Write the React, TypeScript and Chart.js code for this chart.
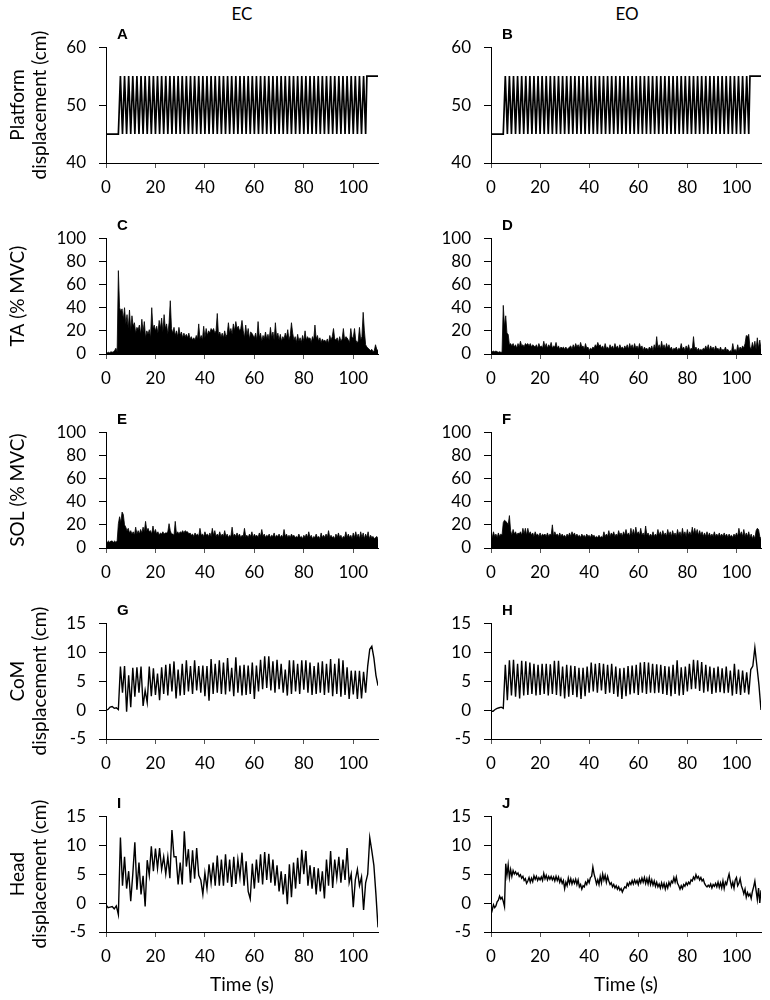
import { useEffect, useRef } from "react";
import { Chart, registerables } from "chart.js";

Chart.register(...registerables);

// ---- data ----

// platform turning points (s) and positions (cm); EO trace reads the same as EC
const platformTimes = [
  0,
  5, 5.83, 6.67, 7.5, 8.33, 9.17,
  10, 10.83, 11.67, 12.5, 13.33, 14.17,
  15, 15.83, 16.67, 17.5, 18.33, 19.17,
  20, 20.83, 21.67, 22.5, 23.33, 24.17,
  25, 25.83, 26.67, 27.5, 28.33, 29.17,
  30, 30.83, 31.67, 32.5, 33.33, 34.17,
  35, 35.83, 36.67, 37.5, 38.33, 39.17,
  40, 40.83, 41.67, 42.5, 43.33, 44.17,
  45, 45.83, 46.67, 47.5, 48.33, 49.17,
  50, 50.83, 51.67, 52.5, 53.33, 54.17,
  55, 55.83, 56.67, 57.5, 58.33, 59.17,
  60, 60.83, 61.67, 62.5, 63.33, 64.17,
  65, 65.83, 66.67, 67.5, 68.33, 69.17,
  70, 70.83, 71.67, 72.5, 73.33, 74.17,
  75, 75.83, 76.67, 77.5, 78.33, 79.17,
  80, 80.83, 81.67, 82.5, 83.33, 84.17,
  85, 85.83, 86.67, 87.5, 88.33, 89.17,
  90, 90.83, 91.67, 92.5, 93.33, 94.17,
  95, 95.83, 96.67, 97.5, 98.33, 99.17,
  100, 100.83, 101.67, 102.5, 103.33, 104.17,
  105, 105.5, 110,
];
const platformEC = [
  45,
  45, 55, 45, 55, 45, 55,
  45, 55, 45, 55, 45, 55,
  45, 55, 45, 55, 45, 55,
  45, 55, 45, 55, 45, 55,
  45, 55, 45, 55, 45, 55,
  45, 55, 45, 55, 45, 55,
  45, 55, 45, 55, 45, 55,
  45, 55, 45, 55, 45, 55,
  45, 55, 45, 55, 45, 55,
  45, 55, 45, 55, 45, 55,
  45, 55, 45, 55, 45, 55,
  45, 55, 45, 55, 45, 55,
  45, 55, 45, 55, 45, 55,
  45, 55, 45, 55, 45, 55,
  45, 55, 45, 55, 45, 55,
  45, 55, 45, 55, 45, 55,
  45, 55, 45, 55, 45, 55,
  45, 55, 45, 55, 45, 55,
  45, 55, 45, 55, 45, 55,
  45, 55, 45, 55, 45, 55,
  45, 55, 55,
];
const platformEO = platformEC;

// EMG envelopes (% MVC), one value every 0.5 s from 0 to 110 s
const taEC = [
  1, 1, 1.5, 1, 2, 1.5, 2, 3, 5, 2,
  72, 40, 37, 39, 30, 40, 26, 34, 22, 38,
  20, 33, 24, 27, 18, 23, 21, 25, 17, 30,
  19, 28, 14, 20, 17, 21, 14, 40, 22, 25,
  20, 24, 18, 29, 22, 31, 19, 34, 22, 26,
  17, 27, 46, 22, 18, 23, 16, 20, 15, 23,
  16, 19, 14, 18, 15, 17, 14, 18, 13, 15,
  12, 14, 12, 16, 13, 26, 13, 16, 12, 24,
  14, 22, 16, 20, 18, 22, 20, 22, 18, 20,
  35, 16, 19, 15, 18, 14, 20, 15, 17, 27,
  18, 22, 17, 26, 20, 28, 22, 24, 20, 22,
  29, 20, 14, 25, 16, 22, 13, 19, 18, 16,
  14, 18, 12, 28, 14, 18, 11, 16, 13, 19,
  13, 17, 12, 23, 14, 19, 12, 27, 14, 18,
  12, 17, 11, 15, 13, 18, 14, 21, 12, 16,
  27, 18, 12, 15, 10, 17, 11, 14, 10, 16,
  11, 20, 12, 15, 13, 14, 10, 15, 12, 25,
  13, 16, 11, 14, 10, 13, 11, 12, 10, 13,
  9, 16, 12, 15, 22, 13, 12, 14, 10, 15,
  11, 13, 22, 12, 15, 14, 12, 10, 22, 14,
  14, 22, 12, 10, 11, 23, 12, 15, 36, 20,
  8, 6, 5, 4, 3, 4, 2, 3, 8, 4,
  3,
];
const taEO = [
  1.5, 2, 2.5, 2, 2.5, 2, 1.5, 2, 1.5, 1.5,
  42, 24, 33, 18, 17, 8, 9, 7, 9, 6,
  8, 5, 9, 6, 11, 7, 8, 6, 9, 8,
  9, 7, 9, 6, 8, 7, 6, 8, 5, 9,
  6, 7, 5, 11, 6, 9, 5, 8, 6, 10,
  5, 7, 6, 10, 5, 7, 4, 6, 5, 6,
  4, 6, 4, 5, 6, 7, 4, 8, 5, 9,
  6, 8, 5, 10, 6, 7, 4, 9, 5, 6,
  3, 5, 4, 6, 5, 8, 6, 10, 7, 8,
  5, 7, 4, 9, 5, 6, 4, 8, 5, 7,
  4, 9, 5, 7, 4, 8, 5, 6, 4, 7,
  5, 8, 4, 9, 5, 8, 4, 9, 5, 7,
  4, 9, 5, 7, 3, 6, 4, 5, 3, 6,
  4, 7, 3, 8, 4, 15, 5, 8, 4, 11,
  5, 8, 4, 9, 5, 8, 4, 6, 3, 5,
  4, 6, 3, 5, 4, 9, 4, 6, 3, 7,
  4, 8, 3, 5, 4, 15, 4, 6, 3, 5,
  3, 4, 3, 5, 4, 7, 4, 8, 3, 7,
  4, 6, 3, 7, 4, 5, 3, 6, 3, 4,
  3, 6, 3, 4, 2, 3, 2, 9, 3, 4,
  2, 8, 3, 6, 4, 7, 5, 9, 16, 15,
  17, 6, 4, 10, 5, 11, 4, 14, 5, 12,
  4,
];
const solEC = [
  6, 5, 6, 5, 6, 6, 5, 6, 5, 6,
  21, 27, 22, 31, 29, 20, 18, 15, 17, 13,
  15, 12, 14, 11, 18, 12, 15, 12, 16, 13,
  18, 14, 23, 15, 17, 14, 15, 12, 19, 13,
  16, 12, 14, 11, 13, 12, 14, 12, 13, 13,
  14, 21, 15, 12, 12, 11, 23, 12, 14, 12,
  14, 13, 15, 13, 15, 14, 14, 12, 13, 11,
  12, 10, 13, 11, 12, 10, 17, 11, 12, 10,
  14, 11, 12, 10, 13, 10, 17, 11, 15, 10,
  12, 10, 14, 10, 12, 10, 15, 10, 12, 9,
  11, 10, 18, 10, 12, 10, 13, 10, 12, 9,
  11, 10, 17, 10, 11, 9, 12, 10, 14, 9,
  12, 10, 11, 9, 13, 10, 16, 10, 12, 9,
  11, 10, 12, 9, 11, 10, 13, 9, 11, 10,
  12, 9, 11, 9, 16, 10, 12, 9, 11, 9,
  12, 10, 11, 9, 10, 9, 12, 9, 10, 8,
  11, 9, 12, 9, 14, 9, 11, 8, 10, 9,
  12, 9, 10, 8, 13, 9, 11, 9, 12, 9,
  15, 9, 11, 9, 10, 8, 12, 9, 13, 9,
  11, 8, 10, 9, 14, 9, 12, 9, 11, 8,
  13, 9, 14, 9, 12, 8, 14, 9, 13, 8,
  12, 9, 14, 8, 11, 9, 10, 8, 9, 10,
  8,
];
const solEO = [
  11, 9, 14, 10, 12, 9, 13, 10, 12, 11,
  22, 24, 23, 22, 20, 28, 15, 11, 16, 12,
  14, 11, 13, 12, 14, 11, 17, 12, 17, 11,
  17, 12, 14, 11, 13, 10, 14, 11, 12, 10,
  13, 10, 12, 11, 12, 10, 13, 10, 12, 11,
  20, 10, 14, 11, 12, 10, 13, 10, 12, 10,
  11, 9, 12, 10, 13, 10, 14, 11, 13, 10,
  12, 10, 11, 9, 12, 10, 11, 9, 12, 10,
  11, 9, 12, 10, 11, 9, 10, 9, 11, 9,
  10, 9, 14, 10, 12, 10, 15, 10, 13, 11,
  14, 10, 12, 10, 15, 11, 13, 10, 14, 11,
  16, 11, 13, 10, 17, 11, 16, 11, 18, 12,
  14, 11, 17, 11, 13, 10, 19, 11, 13, 10,
  12, 10, 14, 10, 12, 10, 16, 11, 14, 10,
  15, 11, 13, 10, 16, 11, 14, 10, 15, 11,
  13, 10, 16, 11, 14, 10, 17, 11, 14, 10,
  16, 11, 14, 11, 18, 12, 17, 12, 16, 11,
  15, 11, 14, 10, 13, 10, 14, 10, 13, 10,
  12, 10, 14, 10, 12, 10, 13, 10, 12, 10,
  13, 10, 12, 9, 12, 10, 11, 9, 12, 10,
  13, 10, 17, 11, 14, 10, 16, 10, 13, 10,
  14, 9, 12, 8, 11, 8, 15, 17, 16, 10,
  8,
];

// CoM and head displacement (cm), one value every half platform cycle (~0.83 s)
const comEC = [
  0, 0.1, 0.5, 0.6, 0.3, 0.4, 0.1,
  7.5, 3.0, 7.6, -0.3, 6.0, 0.5, 7.3, 2.3, 7.4, 3.0,
  7.5, 0.7, 3.4, 1.3, 7.5, 2.4, 7.2, 2.6, 6.3, 1.7,
  7.4, 2.8, 7.8, 2.5, 8.0, 3.2, 8.4, 2.0, 7.0, 2.5,
  8.0, 2.6, 8.6, 3.2, 7.6, 2.8, 8.6, 3.4, 7.6, 3.0,
  7.7, 2.4, 7.6, 1.6, 8.8, 2.8, 8.0, 3.0, 8.6, 2.8,
  8.2, 2.7, 9.0, 3.2, 7.3, 2.4, 9.1, 3.0, 7.7, 2.5,
  7.8, 2.6, 7.7, 2.8, 8.2, 1.9, 7.7, 3.2, 8.7, 3.6,
  9.3, 3.8, 9.3, 3.4, 8.4, 3.0, 8.7, 3.6, 8.0, 3.0,
  7.0, 2.5, 8.6, 2.8, 8.6, 3.2, 8.0, 2.8, 8.6, 3.5,
  8.6, 3.0, 8.2, 2.6, 7.6, 2.8, 8.2, 3.0, 8.4, 2.6,
  8.0, 3.0, 8.8, 2.4, 8.0, 2.8, 8.9, 2.3, 8.6, 2.6,
  7.4, 1.9, 6.8, 2.7, 6.8, 1.9, 6.8, 2.0, 6.6, 3.0,
  7.6, 10.5, 11.0, 9.0, 6.0, 4.2,
];
const comEO = [
  -0.2, -0.2, 0.1, 0.3, 0.4, 0.5, 0.3,
  7.8, 1.7, 8.6, 2.5, 8.7, 2.3, 8.0, 2.0, 8.5, 2.5,
  8.4, 2.6, 8.2, 2.8, 8.0, 2.5, 7.8, 2.6, 8.0, 2.8,
  8.0, 2.5, 7.9, 2.8, 8.5, 2.6, 8.5, 2.4, 7.5, 2.0,
  7.8, 2.3, 7.7, 2.6, 7.6, 2.2, 7.3, 1.9, 7.3, 2.4,
  7.5, 3.0, 8.2, 3.2, 8.0, 3.0, 8.1, 3.4, 8.0, 2.8,
  7.8, 3.0, 8.0, 2.8, 7.5, 2.3, 7.2, 1.9, 7.3, 2.4,
  7.6, 2.7, 7.7, 2.9, 7.8, 2.6, 8.2, 3.0, 8.3, 2.8,
  8.2, 3.0, 8.0, 2.9, 7.9, 3.0, 7.8, 2.8, 7.6, 2.6,
  7.5, 2.4, 7.8, 2.8, 8.6, 2.5, 7.4, 2.6, 7.5, 3.2,
  8.0, 3.6, 8.7, 3.7, 8.6, 3.3, 8.3, 3.0, 7.8, 3.2,
  7.5, 2.8, 7.3, 3.0, 7.5, 3.1, 7.2, 2.9, 7.5, 3.0,
  6.8, 2.5, 8.0, 2.8, 7.0, 2.6, 6.8, 3.0, 6.5, 2.7,
  7.0, 7.6, 10.8, 7.6, 4.3, 0,
];
const headEC = [
  -0.3, -0.8, -0.7, -0.6, -1.0, -0.5, -2.0,
  11.3, 3.0, 8.0, 2.5, 5.5, 0.3, 5.0, 10.5, 2.3, 7.0,
  1.5, 4.7, -0.6, 7.4, 4.8, 9.8, 5.5, 9.4, 6.0, 9.5,
  5.8, 8.0, 5.0, 8.0, 4.3, 12.6, 8.0, 8.0, 3.2, 7.0,
  3.2, 12.4, 6.3, 9.3, 3.5, 9.1, 4.2, 9.5, 4.8, 4.0,
  1.5, 5.2, 2.5, 6.7, 3.5, 7.0, 3.0, 8.2, 3.0, 7.5,
  3.0, 8.4, 3.5, 7.5, 2.8, 8.0, 3.3, 7.5, 4.5, 8.7,
  3.0, 7.2, 2.0, 0.7, 6.8, 2.5, 7.5, 3.5, 8.4, 3.2,
  8.8, 4.0, 8.5, 3.5, 7.5, 3.0, 6.5, 2.0, 5.5, 1.5,
  5.0, -0.2, 6.7, 1.0, 7.0, 2.5, 7.8, 3.3, 9.2, 5.0,
  9.0, 3.0, 6.5, 2.5, 6.2, 1.5, 6.0, 2.0, 5.5, 0.8,
  7.5, 3.0, 9.0, 2.6, 7.5, 4.3, 8.0, 3.5, 7.5, 4.0,
  9.5, 3.5, 5.0, -0.7, 4.0, 5.8, 3.0, 4.5, -1.2, 3.5,
  5.0, 11.3, 9.0, 6.5, 1.5, -4.2,
];
// head EO, one value every 0.5 s
const headEO = [
  -2.0, -1.2, -0.3, -0.8, -0.5, 0.2, 0.5, 1.2, 0.7, 1.0,
  0.3, -0.6, 6.8, 4.8, 6.6, 4.4, 5.8, 4.6, 5.6, 5.0,
  5.4, 4.9, 5.2, 4.6, 4.9, 4.3, 4.6, 3.9, 4.2, 3.4,
  3.8, 4.4, 3.6, 4.3, 3.7, 4.7, 4.1, 4.6, 3.9, 4.4,
  4.0, 4.5, 3.9, 5.1, 4.2, 4.8, 4.0, 4.6, 4.1, 4.6,
  4.0, 4.5, 3.8, 4.6, 3.9, 4.5, 3.6, 4.2, 3.4, 3.9,
  2.5, 3.6, 3.0, 4.3, 3.4, 4.2, 3.3, 4.0, 3.4, 4.1,
  3.2, 4.0, 2.8, 3.2, 2.4, 3.0, 2.8, 3.6, 3.2, 4.0,
  3.5, 4.4, 4.6, 6.2, 5.0, 4.2, 3.3, 4.0, 3.2, 4.6,
  3.5, 5.0, 4.0, 4.8, 3.6, 4.6, 3.8, 3.2, 3.5, 2.8,
  3.2, 2.6, 3.0, 2.4, 2.8, 2.2, 2.5, 1.9, 2.4, 2.8,
  2.6, 3.4, 3.0, 3.6, 3.2, 3.9, 3.3, 4.0, 3.4, 3.9,
  3.2, 4.1, 3.5, 4.3, 3.6, 4.4, 3.4, 4.2, 3.3, 4.4,
  3.2, 4.0, 3.1, 3.8, 2.9, 3.6, 2.8, 3.3, 2.6, 3.5,
  2.7, 3.4, 2.4, 3.3, 2.6, 3.6, 3.0, 3.8, 3.5, 4.4,
  3.6, 4.5, 3.4, 3.0, 2.4, 3.0, 2.5, 3.2, 2.9, 3.5,
  3.1, 3.6, 3.3, 4.0, 3.8, 4.5, 4.1, 4.9, 4.3, 4.6,
  4.0, 4.4, 3.8, 4.1, 3.4, 3.0, 2.8, 3.1, 2.8, 3.3,
  2.6, 3.2, 2.9, 3.4, 2.8, 3.6, 2.7, 3.5, 2.6, 3.8,
  2.5, 3.6, 3.2, 4.2, 5.0, 3.8, 2.8, 3.6, 2.6, 4.0,
  4.4, 3.0, 3.4, 4.2, 3.0, 2.4, 1.6, 2.4, 1.0, 1.8,
  1.2, 1.6, 0.8, 2.0, 2.8, 3.8, 2.2, 0.6, 2.6, 0.0,
  2.2,
];

const timeTicks = [0, 20, 40, 60, 80, 100];
const platformTicks = [40, 50, 60];
const emgTicks = [0, 20, 40, 60, 80, 100];
const dispTicks = [-5, 0, 5, 10, 15];
const T_END = 110;

// ---- layout ----
const ROW_TOP = [38, 229, 423, 614, 807];
const PLOT_H = 125;
const PAD_TOP = 14;
const AXIS_W = 106;
const FONT = "Lato, 'Open Sans', sans-serif";

type Pt = { x: number; y: number };

const sampled = (ys: number[]): Pt[] =>
  ys.map((y, i) => ({ x: (i * T_END) / (ys.length - 1), y }));
const paired = (xs: number[], ys: number[]): Pt[] =>
  xs.map((x, i) => ({ x, y: ys[i] }));

type PanelDef = {
  letter: string;
  col: number;
  row: number;
  points: Pt[];
  yMin: number;
  yMax: number;
  yTicks: number[];
  title: string | string[] | null;
  kind: "platform" | "emg" | "trace";
};

const panels: PanelDef[] = [
  { letter: "A", col: 0, row: 0, points: paired(platformTimes, platformEC), yMin: 40, yMax: 60, yTicks: platformTicks, title: ["Platform", "displacement (cm)"], kind: "platform" },
  { letter: "B", col: 1, row: 0, points: paired(platformTimes, platformEO), yMin: 40, yMax: 60, yTicks: platformTicks, title: null, kind: "platform" },
  { letter: "C", col: 0, row: 1, points: sampled(taEC), yMin: 0, yMax: 100, yTicks: emgTicks, title: "TA (% MVC)", kind: "emg" },
  { letter: "D", col: 1, row: 1, points: sampled(taEO), yMin: 0, yMax: 100, yTicks: emgTicks, title: null, kind: "emg" },
  { letter: "E", col: 0, row: 2, points: sampled(solEC), yMin: 0, yMax: 100, yTicks: emgTicks, title: "SOL (% MVC)", kind: "emg" },
  { letter: "F", col: 1, row: 2, points: sampled(solEO), yMin: 0, yMax: 100, yTicks: emgTicks, title: null, kind: "emg" },
  { letter: "G", col: 0, row: 3, points: sampled(comEC), yMin: -5, yMax: 15, yTicks: dispTicks, title: ["CoM", "displacement (cm)"], kind: "trace" },
  { letter: "H", col: 1, row: 3, points: sampled(comEO), yMin: -5, yMax: 15, yTicks: dispTicks, title: null, kind: "trace" },
  { letter: "I", col: 0, row: 4, points: sampled(headEC), yMin: -5, yMax: 15, yTicks: dispTicks, title: ["Head", "displacement (cm)"], kind: "trace" },
  { letter: "J", col: 1, row: 4, points: sampled(headEO), yMin: -5, yMax: 15, yTicks: dispTicks, title: null, kind: "trace" },
];

const LINE_W = { platform: 1.7, emg: 0.8, trace: 1.4 };

function Panel({ def }: { def: PanelDef }) {
  const canvasRef = useRef<HTMLCanvasElement | null>(null);
  const chartRef = useRef<Chart | null>(null);
  const bottom = def.row === 4;
  const xH = bottom ? 66 : 30;
  const left = def.col === 0 ? 0 : 385;
  const width = def.col === 0 ? 382 : 380;
  const height = PAD_TOP + PLOT_H + xH;

  useEffect(() => {
    if (!canvasRef.current) return;
    chartRef.current?.destroy();
    const tickFont = { family: FONT, size: 17 };
    const titleFont = { family: FONT, size: 19, lineHeight: 22 / 19 };
    chartRef.current = new Chart(canvasRef.current, {
      type: "line",
      data: {
        datasets: [
          {
            data: def.points as any,
            borderColor: "#000",
            backgroundColor: "#000",
            borderWidth: LINE_W[def.kind],
            fill: def.kind === "emg" ? "origin" : false,
            pointRadius: 0,
            tension: 0,
          },
        ],
      },
      options: {
        animation: false,
        responsive: true,
        maintainAspectRatio: false,
        events: [],
        layout: { padding: { top: PAD_TOP, right: 4, left: 0, bottom: 0 } },
        plugins: { legend: { display: false }, tooltip: { enabled: false } },
        scales: {
          x: {
            type: "linear",
            min: 0,
            max: T_END,
            afterBuildTicks: (s: any) => {
              s.ticks = timeTicks.map((v) => ({ value: v }));
            },
            afterFit: (s: any) => {
              s.height = xH;
            },
            grid: { drawOnChartArea: false, drawTicks: true, tickLength: 5, color: "#555" },
            border: { display: true, color: "#000", width: 1 },
            ticks: { font: tickFont, color: "#000", padding: 9, maxRotation: 0, autoSkip: false },
            title: {
              display: bottom,
              text: "Time (s)",
              color: "#000",
              font: titleFont,
              padding: { top: 0, bottom: 2 },
            },
          },
          y: {
            min: def.yMin,
            max: def.yMax,
            afterBuildTicks: (s: any) => {
              s.ticks = def.yTicks.map((v) => ({ value: v }));
            },
            afterFit: (s: any) => {
              s.width = AXIS_W;
            },
            grid: { drawOnChartArea: false, drawTicks: true, tickLength: 7, color: "#000" },
            border: { display: true, color: "#000", width: 1 },
            ticks: { font: tickFont, color: "#000", padding: 13, autoSkip: false },
            title: {
              display: !!def.title,
              text: def.title ?? "",
              color: "#000",
              font: titleFont,
              padding: { top: 7, bottom: 0 },
            },
          },
        },
      },
    });
    return () => {
      chartRef.current?.destroy();
      chartRef.current = null;
    };
  }, [def, xH, bottom]);

  return (
    <>
      <div
        style={{
          position: "absolute",
          left,
          top: ROW_TOP[def.row] - PAD_TOP,
          width,
          height,
        }}
      >
        <canvas ref={canvasRef} />
      </div>
      <div
        style={{
          position: "absolute",
          left: left + AXIS_W + 11,
          top: ROW_TOP[def.row] - 12.5,
          font: "bold 15px 'Liberation Sans', Arial, sans-serif",
          lineHeight: "15px",
          color: "#000",
        }}
      >
        {def.letter}
      </div>
    </>
  );
}

export default function App() {
  const heading = {
    position: "absolute" as const,
    top: 4,
    width: 272,
    textAlign: "center" as const,
    font: `17px ${FONT}`,
    lineHeight: "19px",
    color: "#000",
  };
  return (
    <div style={{ position: "relative", width: 770, height: 1000, background: "#fff" }}>
      <style>{"body{margin:0}"}</style>
      <div style={{ ...heading, left: 106 }}>EC</div>
      <div style={{ ...heading, left: 491 }}>EO</div>
      {panels.map((p) => (
        <Panel key={p.letter} def={p} />
      ))}
    </div>
  );
}
